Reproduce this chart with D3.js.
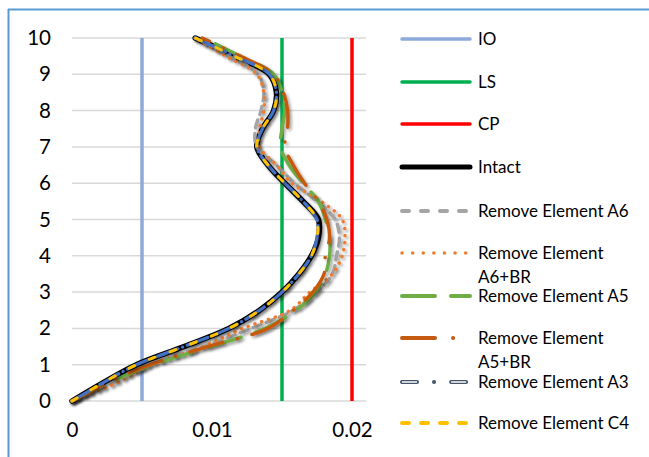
<!DOCTYPE html>
<html>
<head>
<meta charset="utf-8">
<script src="https://cdn.jsdelivr.net/npm/d3@7"></script>
<style>
  body { margin: 0; background: #fff; }
  text { font-family: Lato, "Open Sans", sans-serif; fill: #000; }
</style>
</head>
<body>
<div id="chart"></div>
<script>
// storey heights (y) and drift values (x) for each case
const heights = [0, 0.5, 1, 1.5, 2, 2.5, 3, 3.5, 4, 4.5, 5, 5.5, 6, 6.5, 7, 7.5, 8, 8.5, 9, 9.5, 10];

const intact = [0, 0.0022, 0.0046, 0.0080, 0.0112, 0.0134, 0.0150, 0.0162, 0.0171, 0.0176, 0.0176, 0.0165, 0.0152, 0.0140, 0.0132, 0.0136, 0.0144, 0.0146, 0.0141, 0.0116, 0.0088];
const a6 = [0, 0.0030, 0.0055, 0.0094, 0.0128, 0.0158, 0.0175, 0.0186, 0.0189, 0.0191, 0.0188, 0.0175, 0.0159, 0.0146, 0.0132, 0.0131, 0.0135, 0.0137, 0.0133, 0.0112, 0.0088];
const a6br = [0, 0.0032, 0.0057, 0.0094, 0.0122, 0.0156, 0.0170, 0.0186, 0.0193, 0.0195, 0.0193, 0.0178, 0.0157, 0.0146, 0.0134, 0.0134, 0.0137, 0.0137, 0.0132, 0.0110, 0.0088];
const a5 = [0, 0.0026, 0.0058, 0.0099, 0.0138, 0.0160, 0.0174, 0.0181, 0.0184, 0.0184, 0.0181, 0.0176, 0.0165, 0.0155, 0.0149, 0.0150, 0.0152, 0.0150, 0.0144, 0.0120, 0.0094];
const a5br = [0, 0.0025, 0.0056, 0.0097, 0.0140, 0.0158, 0.0172, 0.0180, 0.0181, 0.0184, 0.0182, 0.0176, 0.0166, 0.0158, 0.0152, 0.0154, 0.0154, 0.0151, 0.0144, 0.0120, 0.0093];
const a3 = [0, 0.0022, 0.0046, 0.0080, 0.0112, 0.0134, 0.0150, 0.0162, 0.0171, 0.0175, 0.0175, 0.0165, 0.0152, 0.0140, 0.0132, 0.0136, 0.0144, 0.0146, 0.0141, 0.0116, 0.0088];
const c4 = [0, 0.0022, 0.0046, 0.0080, 0.0112, 0.0134, 0.0150, 0.0162, 0.0171, 0.0175, 0.0175, 0.0165, 0.0152, 0.0140, 0.0132, 0.0136, 0.0144, 0.0146, 0.0141, 0.0116, 0.0088];

// performance level limits (vertical lines)
const limits = [
    { name: "IO", value: 0.005, color: "#8EA9DB" },
    { name: "LS", value: 0.015, color: "#00B050" },
    { name: "CP", value: 0.02, color: "#FF0000" }
];

const xTicks = [0, 0.01, 0.02];
const yTicks = [0, 1, 2, 3, 4, 5, 6, 7, 8, 9, 10];

const series = [
    { name: "Intact", values: intact, color: "#000000", width: 5.5, dash: null, cap: "round" },
    { name: "Remove Element A6", values: a6, color: "#A5A5A5", width: 3.5, dash: "8 6", cap: "round" },
    { name: "Remove Element A6+BR", values: a6br, color: "#ED7D31", width: 3.5, dash: "0.1 7", cap: "round" },
    { name: "Remove Element A5", values: a5, color: "#70AD47", width: 3.5, dash: "34 15", cap: "round" },
    { name: "Remove Element A5+BR", values: a5br, color: "#C55A11", width: 3.5, dash: "34 15 0.1 15", cap: "round" },
    { name: "Remove Element A3", values: a3, color: "#4472C4", width: 3.2, dash: "22 5 0.1 5", cap: "round" },
    { name: "Remove Element C4", values: c4, color: "#FFC000", width: 3, dash: "6 16", cap: "round" }
];

const width = 649, height = 457;
const margin = { left: 72, top: 38, right: 283, bottom: 56 };

const svg = d3.select("#chart")
    .append("svg")
    .attr("width", width)
    .attr("height", height);

const defs = svg.append("defs");
const shadow = defs.append("filter")
    .attr("id", "shadow")
    .attr("x", "-20%").attr("y", "-20%")
    .attr("width", "140%").attr("height", "140%");
shadow.append("feDropShadow")
    .attr("dx", 2).attr("dy", 2)
    .attr("stdDeviation", 1.5)
    .attr("flood-color", "#000")
    .attr("flood-opacity", 0.35);

// chart border (only top and left visible)
svg.append("line")
    .attr("x1", 8).attr("x2", width)
    .attr("y1", 9.5).attr("y2", 9.5)
    .attr("stroke", "#5B9BD5").attr("stroke-width", 2);
svg.append("line")
    .attr("x1", 8.5).attr("x2", 8.5)
    .attr("y1", 9).attr("y2", height)
    .attr("stroke", "#5B9BD5").attr("stroke-width", 2);

const x = d3.scaleLinear()
    .domain([0, 0.021])
    .range([margin.left, width - margin.right]);

const y = d3.scaleLinear()
    .domain([0, 10])
    .range([height - margin.bottom, margin.top]);

// horizontal gridlines
svg.append("g")
    .selectAll("line")
    .data(yTicks)
    .enter()
    .append("line")
    .attr("x1", x(0))
    .attr("x2", x(0.021))
    .attr("y1", d => y(d))
    .attr("y2", d => y(d))
    .attr("stroke", "#D9D9D9")
    .attr("stroke-width", 1.5);

// axes: labels only
const yAxis = svg.append("g")
    .attr("transform", `translate(${margin.left - 21}, 0)`)
    .call(d3.axisLeft(y).tickValues(yTicks).tickSize(0).tickPadding(0));
yAxis.select(".domain").remove();
yAxis.selectAll("text")
    .attr("font-size", "20.5px")
    .attr("font-family", "Lato, sans-serif");

const xAxis = svg.append("g")
    .attr("transform", `translate(0, ${height - margin.bottom + 21})`)
    .call(d3.axisBottom(x).tickValues(xTicks).tickSize(0).tickPadding(0).tickFormat(d3.format("")));
xAxis.select(".domain").remove();
xAxis.selectAll("text")
    .attr("font-size", "20.5px")
    .attr("font-family", "Lato, sans-serif");

// limit lines
svg.append("g")
    .selectAll("line")
    .data(limits)
    .enter()
    .append("line")
    .attr("x1", d => x(d.value))
    .attr("x2", d => x(d.value))
    .attr("y1", y(0))
    .attr("y2", y(10))
    .attr("stroke", d => d.color)
    .attr("stroke-width", 3.5);

const line = d3.line()
    .x(d => x(d[0]))
    .y(d => y(d[1]))
    .curve(d3.curveCatmullRom.alpha(0.5));

svg.append("g")
    .selectAll("path")
    .data(series)
    .enter()
    .append("path")
    .attr("d", s => line(s.values.map((v, i) => [v, heights[i]])))
    .attr("fill", "none")
    .attr("stroke", s => s.color)
    .attr("stroke-width", s => s.width)
    .attr("stroke-dasharray", s => s.dash)
    .attr("stroke-linecap", s => s.cap)
    .attr("filter", "url(#shadow)");

// legend
const legendItems = [
    { label: ["IO"], color: "#8EA9DB", width: 3.5, dash: null, cap: "round" },
    { label: ["LS"], color: "#00B050", width: 3.5, dash: null, cap: "round" },
    { label: ["CP"], color: "#FF0000", width: 3.5, dash: null, cap: "round" },
    { label: ["Intact"], color: "#000000", width: 5, dash: null, cap: "round" },
    { label: ["Remove Element A6"], color: "#A5A5A5", width: 4, dash: "7 12", cap: "round" },
    { label: ["Remove Element", "A6+BR"], color: "#ED7D31", width: 3.5, dash: "0.1 10.5", cap: "round" },
    { label: ["Remove Element A5"], color: "#70AD47", width: 4, dash: "33 16", cap: "round" },
    { label: ["Remove Element", "A5+BR"], color: "#C55A11", width: 4, dash: "33 18 0.1 18", cap: "round" },
    { label: ["Remove Element A3"], color: "#44546A", width: 4, dash: "15 17 0.1 17", cap: "round", outline: true },
    { label: ["Remove Element C4"], color: "#FFC000", width: 4, dash: "7 12", cap: "round" }
];
const legendY = [39, 82, 124, 167, 211, 253, 296, 338, 382, 423];

const legend = svg.append("g");
legendItems.forEach((item, i) => {
    const g = legend.append("g").attr("transform", `translate(0, ${legendY[i]})`);
    g.append("line")
        .attr("x1", 402).attr("x2", 470)
        .attr("y1", 0).attr("y2", 0)
        .attr("stroke", item.color)
        .attr("stroke-width", item.width)
        .attr("stroke-dasharray", item.dash)
        .attr("stroke-linecap", item.cap);
    if (item.outline) {
        g.append("line")
            .attr("x1", 402).attr("x2", 470)
            .attr("y1", 0).attr("y2", 0)
            .attr("stroke", "#fff")
            .attr("stroke-width", 1.6)
            .attr("stroke-dasharray", item.dash)
            .attr("stroke-linecap", "butt");
    }
    item.label.forEach((t, j) => {
        g.append("text")
            .attr("x", 478)
            .attr("y", j * 24)
            .attr("dy", "0.35em")
            .attr("font-size", "17px")
            .text(t);
    });
});
</script>
</body>
</html>
